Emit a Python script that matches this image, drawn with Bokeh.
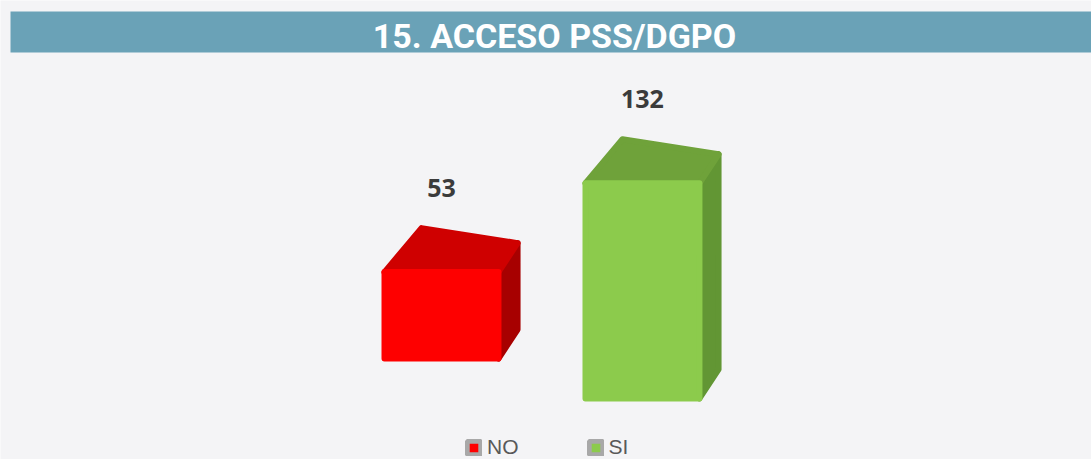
from bokeh.plotting import figure
from bokeh.models import Range1d, Legend, LegendItem
from bokeh.core.properties import value
from bokeh.embed import file_html
from bokeh.resources import INLINE

# ---- data ----
title_text = "15. ACCESO PSS/DGPO"
categories = ["NO", "SI"]
counts = [53, 132]
front_colors = ["#fe0000", "#8ccb4c"]
top_colors = ["#cf0000", "#6fa23a"]
side_colors = ["#a70000", "#629634"]

# ---- style ----
BG = "#f4f4f6"
HEADER = "#6aa2b7"
W, H = 1091, 459
X0, X1 = -2.194, 3.234
Y0 = -61.96
Y1 = Y0 + H / 1.63

def px_x(px):
    return X0 + px * (X1 - X0) / W

def px_y(py):
    return Y1 - py * (Y1 - Y0) / H

p = figure(width=W, height=H, x_range=Range1d(X0, X1), y_range=Range1d(Y0, Y1),
           title=None, toolbar_location=None, output_backend="svg", min_border=0,
           x_axis_location=None, y_axis_location=None)
p.grid.visible = False
p.outline_line_color = None
p.background_fill_color = BG
p.border_fill_color = BG

# header bar and title
p.quad(left=[px_x(10)], right=[X1], bottom=[px_y(52)], top=[px_y(11)],
       fill_color=HEADER, line_color=None)
p.text(x=[px_x(554)], y=[px_y(35)], text=[title_text], text_font=value("Roboto"),
       text_font_style="bold", text_font_size="34px", text_color="white",
       text_align="center", text_baseline="middle")

# pseudo-3D bars
BAR_W = 0.567
FLOOR_DROP = 24.5          # perspective drop of the floor per category
L_DX, L_DY = 0.184, 27.0   # depth offset of back-left edge
R_DX, R_DY = 0.095, 17.8   # depth offset of back-right edge

front_xs, front_ys, top_xs, top_ys, side_xs, side_ys = [], [], [], [], [], []
label_x, label_y = [], []
for i, v in enumerate(counts):
    x0, x1 = i - BAR_W / 2, i + BAR_W / 2
    b = -i * FLOOR_DROP
    t = b + v
    front_xs.append([x0, x1, x1, x0]); front_ys.append([b, b, t, t])
    top_xs.append([x0, x1, x1 + R_DX, x0 + L_DX]); top_ys.append([t, t, t + R_DY, t + L_DY])
    side_xs.append([x1, x1 + R_DX, x1 + R_DX, x1]); side_ys.append([t, t + R_DY, b + R_DY, b])
    label_x.append(i); label_y.append(t)

p.patches(side_xs, side_ys, fill_color=side_colors, line_color=side_colors, line_width=6, line_join="round")
p.patches(top_xs, top_ys, fill_color=top_colors, line_color=top_colors, line_width=6, line_join="round")
p.patches(front_xs, front_ys, fill_color=front_colors, line_color=front_colors, line_width=6, line_join="round")

p.text(x=label_x, y=label_y, text=[str(v) for v in counts], y_offset=-84,
       text_font=value("Open Sans"), text_font_style="bold", text_font_size="25px",
       text_color="#3b3b3b", text_align="center", text_baseline="middle")

# legend (swatches only, not drawn in the plot)
nan = float("nan")
items = []
for cat, col in zip(categories, front_colors):
    r = p.quad(left=[nan], right=[nan], top=[nan], bottom=[nan], fill_color=col,
               line_color="#a8a8a8", line_width=5)
    items.append(LegendItem(label=cat, renderers=[r]))
legend = Legend(items=items, orientation="horizontal", location=(465, 0),
                glyph_width=17, glyph_height=17, label_standoff=5, spacing=68,
                padding=0, margin=0, border_line_color=None, background_fill_alpha=0,
                label_text_font="Liberation Sans", label_text_font_size="21px",
                label_text_color="#595959")
p.add_layout(legend)

open("out.html", "w").write(file_html(p, INLINE))
